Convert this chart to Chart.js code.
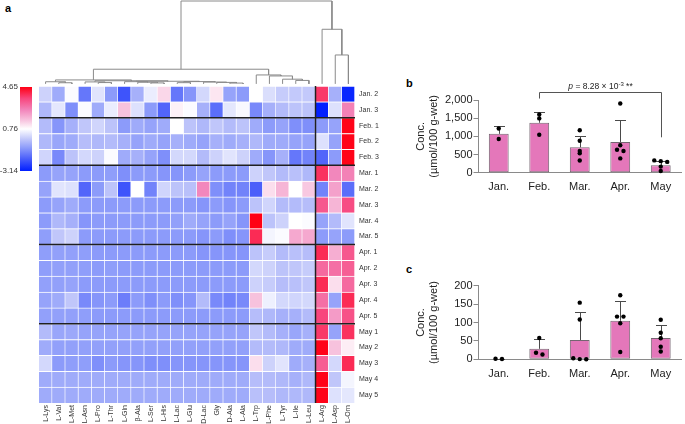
<!DOCTYPE html>
<html><head><meta charset="utf-8">
<script src="https://cdn.jsdelivr.net/npm/chart.js@4.4.1/dist/chart.umd.min.js"></script>
<style>
html,body{margin:0;padding:0;background:#fff;width:685px;height:424px;overflow:hidden;font-family:"Liberation Sans",Arial,sans-serif;}
canvas{position:absolute;}
.pl{position:absolute;font-weight:bold;font-size:11px;color:#000;line-height:13px;}
</style></head><body>
<div class="pl" style="left:5px;top:2px">a</div>
<div class="pl" style="left:406px;top:77px">b</div>
<div class="pl" style="left:406px;top:263px">c</div>
<canvas id="heat" width="400" height="424" style="left:0;top:0"></canvas>
<canvas id="cbar" width="40" height="100" style="left:0;top:80px"></canvas>
<canvas id="cb" width="285" height="130" style="left:400px;top:75px"></canvas>
<canvas id="cc" width="285" height="130" style="left:400px;top:262px"></canvas>
<script>
// ---------------- data ----------------
const rowLabels = ['Jan. 2','Jan. 3','Feb. 1','Feb. 2','Feb. 3','Mar. 1','Mar. 2','Mar. 3','Mar. 4','Mar. 5','Apr. 1','Apr. 2','Apr. 3','Apr. 4','Apr. 5','May 1','May 2','May 3','May 4','May 5'];
const groupSizes = [2,3,5,5,5];
const colLabels = ['L-Lys','L-Val','L-Met','L-Asn','L-Pro','L-Thr','L-Gln','β-Ala','L-Ser','L-His','L-Lac','L-Glu','D-Lac','Gly','D-Ala','L-Ala','L-Trp','L-Phe','L-Tyr','L-Ile','L-Leu','L-Arg','L-Asp','L-Orn'];
const colSplit = 21;
const heat = [
 [0.0,-0.7,0.7,-1.6,0.3,-1.0,-2.2,-0.6,0.45,1.3,-1.6,-1.1,0.1,1.1,-0.85,-1.0,0.76,0.2,-0.1,-0.15,-0.15,3.8,-0.6,-3.0],
 [-0.45,0.35,-1.2,0.7,-0.7,0.45,1.6,0.25,-1.0,-1.9,0.95,0.7,-0.6,-1.75,0.35,0.65,-1.3,-0.6,-0.4,-0.25,-0.25,-3.1,0.25,2.6],
 [-0.4,-1.1,-0.6,-0.2,0.05,-0.25,-1.0,-0.7,-0.85,-0.7,0.76,-0.25,-0.45,-0.2,-0.4,-0.25,-0.7,-1.0,-0.85,-1.2,-1.2,-1.0,-0.85,4.6],
 [-0.45,-0.8,-0.7,-0.35,-0.45,-0.4,-0.6,-0.85,-0.7,-0.85,-0.6,-0.7,-0.85,-0.6,-0.7,-0.6,-0.45,-0.7,-0.7,-0.85,-0.85,0.25,-0.85,4.6],
 [0.05,-1.3,-0.25,0.1,0.0,0.7,-0.7,-0.6,-0.85,-1.2,0.1,0.1,-0.4,0.0,0.3,0.0,-0.7,-1.1,-0.6,-1.6,-1.4,-1.9,-1.0,4.6],
 [-1.0,-0.85,-0.85,-1.0,-1.0,-0.95,-1.2,-1.0,-1.0,-1.1,-1.1,-1.0,-0.85,-1.0,-1.0,-1.0,0.0,-0.2,-0.4,-0.3,-0.45,3.9,2.5,2.6],
 [-0.85,0.3,0.25,-1.9,-1.0,-0.25,-2.2,0.76,-1.4,0.05,-0.25,-0.3,2.5,-1.2,-1.4,-1.4,-2.0,1.2,1.8,0.76,1.5,-1.4,2.1,-1.75],
 [-1.0,-0.85,-0.7,-1.0,-1.0,-1.0,-1.0,-1.0,-1.0,-1.0,-1.0,-1.0,-1.1,-1.0,-1.1,-1.0,-0.25,0.05,-0.4,-0.4,-0.35,3.3,1.8,3.5],
 [-1.0,-0.45,-0.6,-1.1,-1.0,-1.0,-1.0,-1.0,-1.0,-1.0,-0.9,-0.7,-0.85,-1.0,-0.85,-1.1,4.65,-0.25,0.0,0.76,0.7,-0.85,-0.4,0.3],
 [-0.95,-0.2,0.0,-1.0,-1.0,-1.0,-1.0,-1.0,-1.0,-1.0,-1.0,-1.0,-1.1,-1.0,-1.2,-1.1,4.0,0.6,0.7,2.0,2.0,-1.0,-0.85,-1.0],
 [-0.95,-0.9,-0.9,-0.95,-1.0,-1.0,-1.0,-1.0,-1.0,-1.0,-1.0,-1.0,-1.1,-1.1,-1.1,-1.1,-0.25,-0.1,-0.4,-0.3,-0.35,4.0,1.9,3.3],
 [-0.95,-0.9,-0.9,-0.95,-1.0,-0.95,-1.0,-1.0,-1.0,-1.0,-1.0,-1.0,-1.0,-1.0,-1.0,-1.0,0.1,0.0,-0.25,-0.2,-0.1,3.0,2.9,3.2],
 [-0.9,-0.9,-0.85,-1.0,-1.0,-1.0,-1.0,-1.0,-1.0,-1.0,-1.0,-1.0,-1.0,-1.0,-1.0,-1.0,0.0,-0.1,-0.35,-0.3,-0.2,4.0,1.2,3.0],
 [-0.85,-0.7,-0.2,-1.3,-1.1,-1.0,-1.5,-1.0,-1.2,-1.0,-1.2,-1.1,-0.4,-1.3,-1.4,-1.3,1.6,0.5,0.1,0.05,0.1,2.9,-0.85,4.0],
 [-0.9,-0.9,-0.9,-0.95,-1.0,-1.0,-1.0,-1.0,-1.0,-1.0,-1.0,-1.0,-1.0,-1.0,-1.0,-1.0,-0.35,-0.45,-0.6,-0.6,-0.4,3.6,2.2,3.4],
 [-0.4,-0.8,-0.75,-0.85,-0.85,-0.85,-0.85,-0.85,-0.85,-0.85,-0.85,-0.85,-0.85,-0.85,-0.85,-0.85,-0.2,-0.4,-0.6,-0.8,-0.6,3.8,-0.85,3.9],
 [-0.7,-0.9,-0.9,-0.9,-0.9,-0.9,-0.9,-0.9,-0.9,-0.9,-0.9,-0.9,-0.9,-0.9,-0.9,-0.9,-0.4,-0.4,-0.45,-0.7,-0.7,4.6,1.6,1.0],
 [0.1,-1.0,-0.95,-0.95,-1.2,-1.0,-1.1,-1.1,-1.2,-1.2,-1.1,-1.1,-1.1,-1.1,-1.1,-1.1,1.2,0.0,0.3,-0.7,-0.6,3.2,0.1,4.0],
 [-0.7,-0.7,-0.7,-0.7,-0.7,-0.7,-0.7,-0.7,-0.7,-0.7,-0.7,-0.7,-0.7,-0.7,-0.7,-0.7,-0.35,-0.4,-0.45,-0.6,-0.45,4.6,-0.2,0.6],
 [-0.7,-0.7,-0.7,-0.7,-0.7,-0.7,-0.7,-0.7,-0.7,-0.7,-0.7,-0.7,-0.7,-0.7,-0.7,-0.7,-0.3,-0.35,-0.45,-0.45,-0.45,4.6,0.25,0.35]
];
// hierarchical clustering of columns: [child a, child b, merge height]; leaves 0..23, new clusters 24..
const linkage = [
 [1,2,0.14],[0,24,0.26],[4,5,0.16],[3,26,0.24],[8,9,0.12],[7,28,0.2],[6,29,0.27],
 [10,11,0.15],[14,15,0.1],[13,32,0.18],[12,33,0.22],[31,34,0.28],[30,35,0.32],
 [27,36,0.38],[25,37,0.48],[19,20,0.42],[18,39,0.57],[17,40,0.96],[16,41,1.08],
 [38,42,1.77],[22,23,3.49],[21,44,6.59],[43,45,10.0]
];
const cbMin = -3.14, cbMid = 0.76, cbMax = 4.65;

const months = ['Jan.','Feb.','Mar.','Apr.','May'];
const bMean = [1070,1375,700,847,205];
const bSD = [206,287,320,602,110];
const bPoints = [[1217,930],[1600,1495,1045],[1168,881,600,535,338],[1905,755,634,598,395],[340,320,300,170,50]];
const bTicks = [0,500,1000,1500,2000];
const bSig = {from:1, to:4, top:2210, leftEnd:2040, rightEnd:975, p:'8.28', exp:'-3', stars:'**'};

const cMean = [1.2,28.5,52.5,104.5,58];
const cSD = [0.5,26,75,54.5,34.4];
const cPoints = [[0.8,1.6],[58,13,17.6],[154,108,0,3,0.5],[174,116,116,98,20],[107.6,72,57,34,21]];
const cTicks = [0,50,100,150,200];

// ---------------- helpers ----------------
Chart.defaults.font.family = '"Liberation Sans", Arial, sans-serif';
Chart.defaults.color = '#222';
const cmapStops = [[-3.14,[0,30,255]],[-2.0,[75,95,250]],[-1.0,[140,155,250]],[-0.3,[185,192,250]],[0.76,[255,255,255]],[1.5,[248,200,225]],[2.5,[242,135,188]],[3.6,[248,70,125]],[4.65,[255,0,20]]];
const rgb = c => `rgb(${c.map(Math.round).join(',')})`;
function colorOf(v){
  if (v <= cmapStops[0][0]) return rgb(cmapStops[0][1]);
  for (let i=1;i<cmapStops.length;i++){
    const [v1,c1] = cmapStops[i];
    if (v <= v1){
      const [v0,c0] = cmapStops[i-1];
      const t = (v-v0)/(v1-v0);
      return rgb(c0.map((a,k)=>a+(c1[k]-a)*t));
    }
  }
  return rgb(cmapStops[cmapStops.length-1][1]);
}

// ---------------- heatmap + dendrogram ----------------
const nR = rowLabels.length, nC = colLabels.length;
const yTop = 25.36, dBase = nR + 0.13;
const rootH = Math.max(...linkage.map(l=>l[2]));
const dY = h => dBase + h*(yTop - dBase)/rootH;

function dendroPoints(){
  const pos = [], hgt = [], pts = [];
  for (let i=0;i<nC;i++){pos[i]=i;hgt[i]=0;}
  linkage.forEach(([a,b,h],k)=>{
    pts.push({x:pos[a],y:dY(hgt[a])},{x:pos[a],y:dY(h)},{x:pos[b],y:dY(h)},{x:pos[b],y:dY(hgt[b])},{x:null,y:null});
    pos[nC+k]=(pos[a]+pos[b])/2; hgt[nC+k]=h;
  });
  return pts;
}
function sepPoints(){
  const pts = []; let acc = 0;
  groupSizes.slice(0,-1).forEach(g=>{acc+=g; pts.push({x:-0.5,y:nR-acc},{x:nC-0.5,y:nR-acc},{x:null,y:null});});
  pts.push({x:colSplit-0.5,y:0},{x:colSplit-0.5,y:nR});
  return pts;
}
const heatSets = [];
for (let r=nR-1;r>=0;r--){
  heatSets.push({type:'bar', label:rowLabels[r], data:colLabels.map((_,c)=>({x:c, y:[nR-1-r,nR-r]})),
    backgroundColor:heat[r].map(colorOf), borderColor:'rgba(255,255,255,0.9)',
    borderWidth:{top:1,right:1,bottom:0,left:0}, borderSkipped:false,
    barPercentage:1, categoryPercentage:1, grouped:false, order:2});
}
heatSets.push({type:'line', data:dendroPoints(), borderColor:'#8a8a8a', borderWidth:1, pointRadius:0, spanGaps:false, tension:0, clip:false, order:1});
heatSets.push({type:'line', data:sepPoints(), borderColor:'#202020', borderWidth:1.5, pointRadius:0, spanGaps:false, tension:0, clip:false, order:0});

new Chart(document.getElementById('heat'), {
  type:'bar',
  data:{datasets:heatSets},
  options:{
    responsive:false, animation:false, devicePixelRatio:1,
    layout:{padding:{left:39,top:1,right:0,bottom:0}},
    plugins:{legend:{display:false}, tooltip:{enabled:false}},
    scales:{
      x:{type:'linear', offset:false, min:-0.5, max:nC-0.5, grid:{display:false, drawTicks:false}, border:{display:false},
         afterBuildTicks:s=>{s.ticks = colLabels.map((_,i)=>({value:i}));},
         ticks:{font:{size:7}, color:'#333', minRotation:90, maxRotation:90, autoSkip:false, padding:2, callback:v=>colLabels[Math.round(v)]},
         afterFit:s=>{s.height=21; s.paddingLeft=0; s.paddingRight=0;}},
      y:{type:'linear', position:'right', min:0, max:yTop, grid:{display:false, drawTicks:false}, border:{display:false},
         afterBuildTicks:s=>{s.ticks = rowLabels.map((_,r)=>({value:nR-r-0.5}));},
         ticks:{font:{size:7}, color:'#333', autoSkip:false, padding:4, callback:v=>rowLabels[Math.round(nR-0.5-v)]},
         afterFit:s=>{s.width=45; s.paddingTop=0; s.paddingBottom=0;}}
    }
  }
});

// ---------------- colour bar ----------------
new Chart(document.getElementById('cbar'), {
  type:'bar',
  data:{labels:[''], datasets:[{data:[[cbMin,cbMax]], barPercentage:1, categoryPercentage:1, borderWidth:0,
    backgroundColor:ctx=>{
      const ch = ctx.chart; if(!ch.chartArea) return '#fff';
      const ys = ch.scales.y;
      const g = ch.ctx.createLinearGradient(0, ys.getPixelForValue(cbMin), 0, ys.getPixelForValue(cbMax));
      cmapStops.forEach(([v,c])=>g.addColorStop((v-cbMin)/(cbMax-cbMin), rgb(c)));
      return g;
    }}]},
  options:{
    responsive:false, animation:false, devicePixelRatio:1,
    layout:{padding:{left:0,top:7,right:8,bottom:9}},
    plugins:{legend:{display:false}, tooltip:{enabled:false}},
    scales:{
      x:{display:false},
      y:{min:cbMin, max:cbMax, position:'left', grid:{display:false, drawTicks:false}, border:{display:false},
         afterBuildTicks:s=>{s.ticks=[cbMin,cbMid,cbMax].map(v=>({value:v}));},
         ticks:{font:{size:8}, color:'#333', padding:2, callback:v=>v.toFixed(2)},
         afterFit:s=>{s.width=20;}}
    }
  }
});

// ---------------- bar charts ----------------
function swarm(vals, yMax){
  const thr = yMax*2.5/81, sp = 0.16;
  const idx = vals.map((v,i)=>i).sort((a,b)=>vals[b]-vals[a]);
  const off = vals.map(()=>0);
  let cl = [idx[0]];
  const flush = ()=>cl.forEach((id,k)=>off[id]=(k-(cl.length-1)/2)*sp);
  for (let k=1;k<idx.length;k++){
    if (Math.abs(vals[idx[k-1]]-vals[idx[k]])<thr) cl.push(idx[k]); else {flush(); cl=[idx[k]];}
  }
  flush();
  return off;
}
const errPlugin = {
  id:'err',
  afterDatasetDraw(chart, args, opts){
    if (args.index!==0 || !opts.sd) return;
    const {ctx, scales:{x,y}} = chart;
    const means = chart.data.datasets[0].data;
    ctx.save(); ctx.strokeStyle='#4a4a4a'; ctx.lineWidth=1;
    means.forEach((m,i)=>{
      const px = Math.round(x.getPixelForValue(m.x))+0.5;
      const y0 = y.getPixelForValue(m.y), y1 = Math.round(y.getPixelForValue(m.y+opts.sd[i]))+0.5;
      ctx.beginPath(); ctx.moveTo(px,y0); ctx.lineTo(px,y1); ctx.moveTo(px-5.5,y1); ctx.lineTo(px+5.5,y1); ctx.stroke();
    });
    ctx.restore();
  },
  afterDraw(chart, args, opts){
    const s = opts.sig; if (!s) return;
    const {ctx, scales:{x,y}} = chart;
    const x0 = Math.round(x.getPixelForValue(s.from))+0.5, x1 = Math.round(x.getPixelForValue(s.to))+0.5;
    const yt = Math.round(y.getPixelForValue(s.top))+0.5;
    ctx.save(); ctx.strokeStyle='#555'; ctx.lineWidth=1;
    ctx.beginPath();
    ctx.moveTo(x0,y.getPixelForValue(s.leftEnd)); ctx.lineTo(x0,yt); ctx.lineTo(x1,yt); ctx.lineTo(x1,y.getPixelForValue(s.rightEnd));
    ctx.stroke();
    const fam = '"Liberation Sans", Arial, sans-serif';
    const parts = [{t:'p',f:`italic 8.5px ${fam}`,dy:0},{t:` = ${s.p} × 10`,f:`8.5px ${fam}`,dy:0},{t:s.exp,f:`6px ${fam}`,dy:-3},{t:` ${s.stars}`,f:`8.5px ${fam}`,dy:0}];
    let w = 0; parts.forEach(p=>{ctx.font=p.f; p.w=ctx.measureText(p.t).width; w+=p.w;});
    let cx = (x0+x1)/2 - w/2; const by = yt - 4;
    ctx.fillStyle='#222'; ctx.textBaseline='alphabetic'; ctx.textAlign='left';
    parts.forEach(p=>{ctx.font=p.f; ctx.fillText(p.t,cx,by+p.dy); cx+=p.w;});
    ctx.restore();
  }
};
function barChart(id, means, sds, points, ticks, pad, sig){
  const yMax = ticks[ticks.length-1];
  const pts = [];
  points.forEach((vals,i)=>{const off=swarm(vals,yMax); vals.forEach((v,k)=>pts.push({x:i+off[k], y:v}));});
  return new Chart(document.getElementById(id), {
    type:'bar',
    data:{datasets:[
      {type:'bar', data:means.map((m,i)=>({x:i, y:m})), backgroundColor:'#e477ba', borderColor:'#756571', borderWidth:1, borderSkipped:false,
       barPercentage:0.49, categoryPercentage:1, grouped:false, order:2},
      {type:'scatter', data:pts, pointRadius:2.2, pointBackgroundColor:'#000', pointBorderWidth:0, clip:false, order:1}
    ]},
    plugins:[errPlugin],
    options:{
      responsive:false, animation:false, devicePixelRatio:1,
      layout:{padding:{left:0,top:pad[0],right:1,bottom:pad[1]}},
      plugins:{legend:{display:false}, tooltip:{enabled:false}, err:{sd:sds, sig:sig}},
      scales:{
        x:{type:'linear', offset:false, min:-0.5, max:months.length-0.5, grid:{display:false, drawTicks:false}, border:{display:true, color:'#8a8a8a', width:1},
           afterBuildTicks:s=>{s.ticks = months.map((_,i)=>({value:i}));},
           ticks:{font:{size:11}, color:'#222', padding:8, autoSkip:false, maxRotation:0, callback:v=>months[Math.round(v)]}},
        y:{type:'linear', min:0, max:yMax, position:'left',
           grid:{display:true, drawOnChartArea:false, drawTicks:true, tickLength:5, color:'#8a8a8a'},
           border:{display:true, color:'#8a8a8a', width:1},
           afterBuildTicks:s=>{s.ticks = ticks.map(v=>({value:v}));},
           ticks:{font:{size:11}, color:'#222', padding:1, callback:v=>v.toLocaleString('en-US')},
           title:{display:true, text:['Conc.','(µmol/100 g-wet)'], font:{size:11}, color:'#222', padding:{top:14.4,bottom:0}},
           afterFit:s=>{s.width=78.5;}}
      }
    }
  });
}
barChart('cb', bMean, bSD, bPoints, bTicks, [25,3], bSig);
barChart('cc', cMean, cSD, cPoints, cTicks, [23.7,3.5], null);
</script>
</body></html>
